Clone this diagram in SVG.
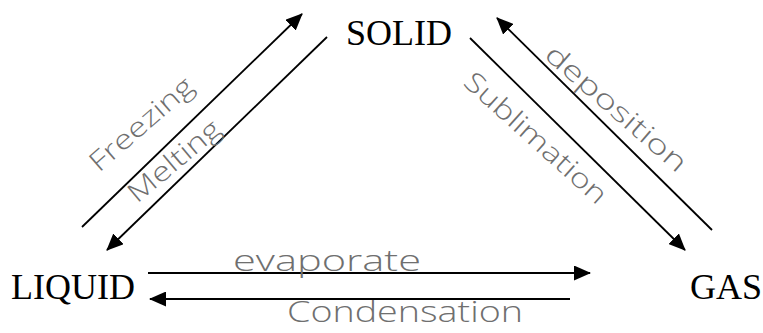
<svg xmlns="http://www.w3.org/2000/svg" width="763" height="333" viewBox="0 0 763 333">
  <style>
    .state { font-family: "Liberation Serif", "Times New Roman", serif; font-size: 36px; fill: #000; }
    .label { font-family: "Open Sans", "DejaVu Sans", sans-serif; font-weight: 300; fill: #6f6f6f; }
    .conn { stroke: #000; stroke-width: 1.8; fill: none; }
  </style>
  <defs>
    <marker id="head" viewBox="0 0 17 15" refX="16" refY="7.5" markerWidth="17" markerHeight="15" markerUnits="userSpaceOnUse" orient="auto">
      <path d="M0,0 L17,7.5 L0,15 Z" fill="#000"/>
    </marker>
  </defs>

  <rect width="763" height="333" fill="#fff"/>

  <!-- phase-change connectors -->
  <g id="connectors">
    <line class="conn" x1="82" y1="227" x2="302" y2="14" marker-end="url(#head)"/>
    <line class="conn" x1="327" y1="37" x2="107" y2="250" marker-end="url(#head)"/>
    <line class="conn" x1="712" y1="230" x2="497" y2="18" marker-end="url(#head)"/>
    <line class="conn" x1="470" y1="38" x2="685" y2="250" marker-end="url(#head)"/>
    <line class="conn" x1="148" y1="273" x2="590" y2="273" marker-end="url(#head)"/>
    <line class="conn" x1="570" y1="299" x2="150" y2="299" marker-end="url(#head)"/>
  </g>

  <!-- transition labels -->
  <g id="labels">
    <text class="label" font-size="27" transform="translate(99,173) rotate(-41)" textLength="128" lengthAdjust="spacingAndGlyphs">Freezing</text>
    <text class="label" font-size="27" transform="translate(137,204) rotate(-40)" textLength="112" lengthAdjust="spacingAndGlyphs">Melting</text>
    <text class="label" font-size="27" transform="translate(543,57) rotate(41)" textLength="178" lengthAdjust="spacingAndGlyphs">deposition</text>
    <text class="label" font-size="27" transform="translate(462,84) rotate(42)" textLength="182" lengthAdjust="spacingAndGlyphs">Sublimation</text>
    <text class="label" font-size="30" x="233" y="271" textLength="188" lengthAdjust="spacingAndGlyphs">evaporate</text>
    <text class="label" font-size="29" x="287" y="322" textLength="236" lengthAdjust="spacingAndGlyphs">Condensation</text>
  </g>

  <!-- states of matter -->
  <g id="solid"><text class="state" x="346" y="45">SOLID</text></g>
  <g id="liquid"><text class="state" x="11" y="299">LIQUID</text></g>
  <g id="gas"><text class="state" x="690" y="299">GAS</text></g>
</svg>
